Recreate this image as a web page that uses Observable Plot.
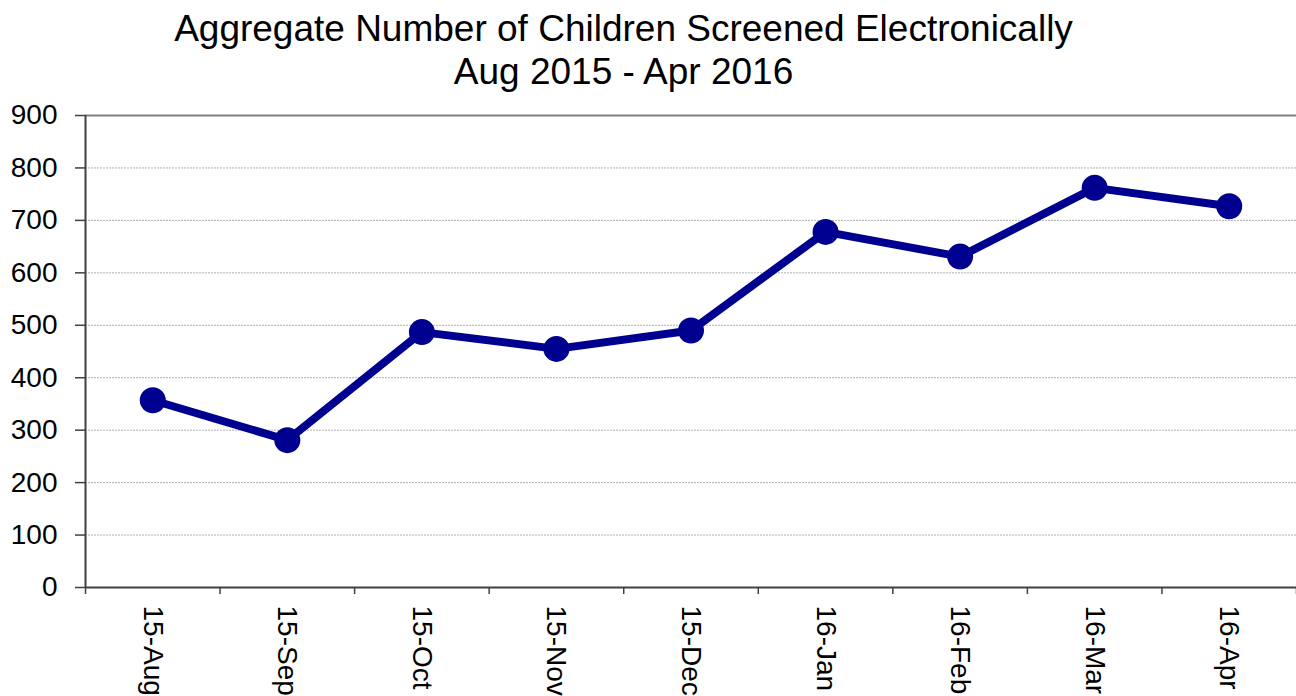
<!DOCTYPE html>
<html>
<head>
<meta charset="utf-8">
<script src="https://cdn.jsdelivr.net/npm/d3@7"></script>
<script src="https://cdn.jsdelivr.net/npm/@observablehq/plot@0.6"></script>
<style>
  html, body { margin: 0; padding: 0; background: #fff; }
  #wrap { width: 1296px; height: 696px; overflow: hidden; position: relative; }
  #title {
    height: 92px; box-sizing: border-box; padding-top: 7px;
    font-family: "Liberation Sans", Arial, sans-serif; font-size: 37px;
    line-height: 43px; text-align: center; color: #000;
    width: 1247px; white-space: nowrap;
  }
  svg { display: block; }
</style>
</head>
<body>
<div id="wrap">
  <div id="title">Aggregate Number of Children Screened Electronically<br>Aug 2015 - Apr 2016</div>
  <div id="chart"></div>
</div>
<script>
// Monthly aggregate count of children screened electronically
const months = ["15-Aug", "15-Sep", "15-Oct", "15-Nov", "15-Dec", "16-Jan", "16-Feb", "16-Mar", "16-Apr"];
const screened = [357, 281, 487, 455, 490, 678, 631, 762, 727];
const yTicks = [0, 100, 200, 300, 400, 500, 600, 700, 800, 900];

// each month occupies one unit slot on the x axis; points sit mid-slot
const rows = months.map((m, i) => ({slot: i + 0.5, month: m, value: screened[i]}));
const slotEdges = d3.range(months.length + 1);
const slotMids = rows.map(d => d.slot);
const labelOf = new Map(rows.map(d => [d.slot, d.month]));

const navy = "#000090";
const font = "Liberation Sans, Arial, sans-serif";

const chart = Plot.plot({
  width: 1296,
  height: 604,
  marginLeft: 85,
  marginRight: 0,
  marginTop: 23,
  marginBottom: 109,
  style: {fontFamily: font, fontSize: "28px", color: "#000", background: "#fff", overflow: "visible"},
  x: {domain: [0, months.length]},
  y: {domain: [0, 900]},
  marks: [
    // dotted horizontal gridlines
    Plot.ruleY(yTicks.slice(1, -1), {stroke: "#b0b0b0", strokeWidth: 1, strokeDasharray: "2,1"}),
    // top border of the plotting area
    Plot.ruleY([900], {stroke: "#808080", strokeWidth: 2}),
    // y axis
    Plot.axisY({ticks: yTicks, tickSize: 10, tickPadding: 18, label: null, fontSize: 28, stroke: "#404040", strokeWidth: 1.5}),
    Plot.ruleX([0], {stroke: "#404040", strokeWidth: 2}),
    // x axis baseline and slot boundary ticks
    Plot.ruleY([0], {stroke: "#404040", strokeWidth: 2}),
    Plot.axisX({ticks: slotEdges, tickSize: 7, tickFormat: () => "", label: null, stroke: "#404040", strokeWidth: 1.5}),
    // month labels, rotated to read downward
    Plot.axisX({ticks: slotMids, tickSize: 0, tickPadding: 18, tickRotate: 90, fontSize: 28, tickFormat: d => labelOf.get(d), label: null, textAnchor: "start"}),
    // the series
    Plot.line(rows, {x: "slot", y: "value", stroke: navy, strokeWidth: 8, strokeLinejoin: "round"}),
    Plot.dot(rows, {x: "slot", y: "value", r: 13, fill: navy, stroke: "none"})
  ]
});
document.getElementById("chart").appendChild(chart);
</script>
</body>
</html>
